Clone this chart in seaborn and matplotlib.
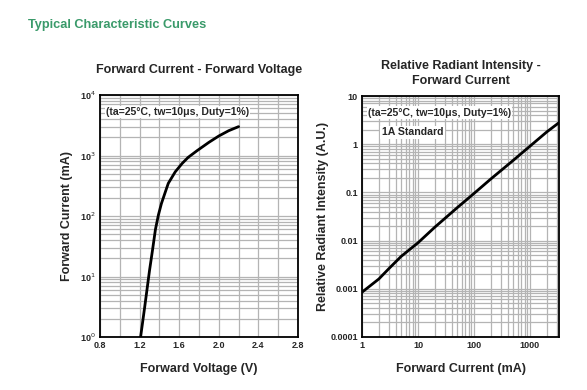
import matplotlib
matplotlib.use("Agg")
import matplotlib.pyplot as plt
import seaborn as sns
import pandas as pd
import numpy as np
from matplotlib.ticker import LogLocator, NullFormatter, FixedLocator, MultipleLocator

# --- data ---
# Forward Current vs Forward Voltage
vf_volt = [1.21, 1.25, 1.30, 1.33, 1.36, 1.39, 1.42, 1.46, 1.49, 1.56, 1.63, 1.69,
           1.78, 1.90, 2.00, 2.10, 2.20]
vf_ma = [1, 3, 12.5, 27, 60, 104, 160, 250, 347, 537, 740, 930,
         1200, 1650, 2100, 2570, 3000]

# Relative Radiant Intensity vs Forward Current
ie_ma = [1, 2, 3, 5, 10, 20, 50, 100, 200, 500, 1000, 2000, 3300]
ie_rel = [0.00085, 0.0016, 0.0026, 0.0047, 0.009, 0.019, 0.048, 0.095, 0.19, 0.46, 0.91, 1.8, 2.8]

left_xticks = [0.8, 1.2, 1.6, 2.0, 2.4, 2.8]
left_yticks = [1, 10, 100, 1000, 10000]
left_ylabels = ["10$^0$", "10$^1$", "10$^2$", "10$^3$", "10$^4$"]
right_xticks = [1, 10, 100, 1000]
right_xlabels = ["1", "10", "100", "1000"]
right_yticks = [0.0001, 0.001, 0.01, 0.1, 1, 10]
right_ylabels = ["0.0001", "0.001", "0.01", "0.1", "1", "10"]

cond_text = "(ta=25\u00b0C, tw=10\u03bcs, Duty=1%)"

sns.set_style("white")
plt.rcParams['font.family'] = ['Liberation Sans', 'DejaVu Sans']

GRID = '#b4b4b4'
fig = plt.figure(figsize=(5.87, 3.90), dpi=100)

fig.text(28 / 587, 1 - 25 / 390, "Typical Characteristic Curves", color='#3a9a6a',
         fontsize=9.2, fontweight='bold', va='center', ha='left')

ax1 = fig.add_axes([100 / 587, 1 - 337 / 390, 198 / 587, 242 / 390])
ax2 = fig.add_axes([362 / 587, 1 - 337 / 390, 197 / 587, 241 / 390])

# --- left chart ---
df1 = pd.DataFrame({'V': vf_volt, 'I': vf_ma})
sns.lineplot(data=df1, x='V', y='I', ax=ax1, color='black', linewidth=2)
ax1.set_yscale('log')
ax1.set_xlim(0.8, 2.8)
ax1.set_ylim(1, 10000)
ax1.xaxis.set_major_locator(FixedLocator(left_xticks))
ax1.xaxis.set_minor_locator(MultipleLocator(0.2))
ax1.set_yticks(left_yticks)
ax1.set_yticklabels(left_ylabels)
ax1.yaxis.set_minor_locator(LogLocator(base=10, subs=np.arange(2, 10)))
ax1.yaxis.set_minor_formatter(NullFormatter())
ax1.set_xticklabels([f"{t:.1f}" for t in left_xticks])
ax1.set_xlabel("Forward Voltage (V)", fontsize=9, fontweight='bold', labelpad=9)
ax1.set_ylabel("Forward Current (mA)", fontsize=9, fontweight='bold', labelpad=5)
ax1.set_title("Forward Current - Forward Voltage", fontsize=9, fontweight='bold', pad=16)
ax1.text(0.03, 0.93, cond_text, transform=ax1.transAxes, fontsize=7.6, fontweight='bold',
         va='center', ha='left', bbox=dict(facecolor='white', edgecolor='none', pad=1))

# --- right chart ---
df2 = pd.DataFrame({'I': ie_ma, 'Ie': ie_rel})
sns.lineplot(data=df2, x='I', y='Ie', ax=ax2, color='black', linewidth=2)
ax2.set_xscale('log')
ax2.set_yscale('log')
ax2.set_xlim(1, 3300)
ax2.set_ylim(0.0001, 10)
ax2.set_xticks(right_xticks)
ax2.set_xticklabels(right_xlabels)
ax2.set_yticks(right_yticks)
ax2.set_yticklabels(right_ylabels)
for a in (ax2.xaxis, ax2.yaxis):
    a.set_minor_locator(LogLocator(base=10, subs=np.arange(2, 10), numticks=20))
    a.set_minor_formatter(NullFormatter())
ax2.set_xlabel("Forward Current (mA)", fontsize=9, fontweight='bold', labelpad=9)
ax2.set_ylabel("Relative Radiant Intensity (A.U.)", fontsize=9, fontweight='bold', labelpad=1)
ax2.set_title("Relative Radiant Intensity -\nForward Current", fontsize=9, fontweight='bold',
              pad=9, linespacing=1.25)
ax2.text(0.03, 0.93, cond_text, transform=ax2.transAxes, fontsize=7.6, fontweight='bold',
         va='center', ha='left', bbox=dict(facecolor='white', edgecolor='none', pad=1))
ax2.text(0.10, 0.85, "1A Standard", transform=ax2.transAxes, fontsize=7.6, fontweight='bold',
         va='center', ha='left', bbox=dict(facecolor='white', edgecolor='none', pad=1))

for ax in (ax1, ax2):
    ax.grid(True, which='both', color=GRID, linewidth=0.9)
    ax.set_axisbelow(True)
    for s in ax.spines.values():
        s.set_color('black')
        s.set_linewidth(1.3)
        s.set_visible(True)
    ax.tick_params(which='both', length=0, labelsize=6.5, pad=3)
    for lbl in ax.get_xticklabels() + ax.get_yticklabels():
        lbl.set_fontweight('bold')

fig.savefig("out.png", dpi=100)
